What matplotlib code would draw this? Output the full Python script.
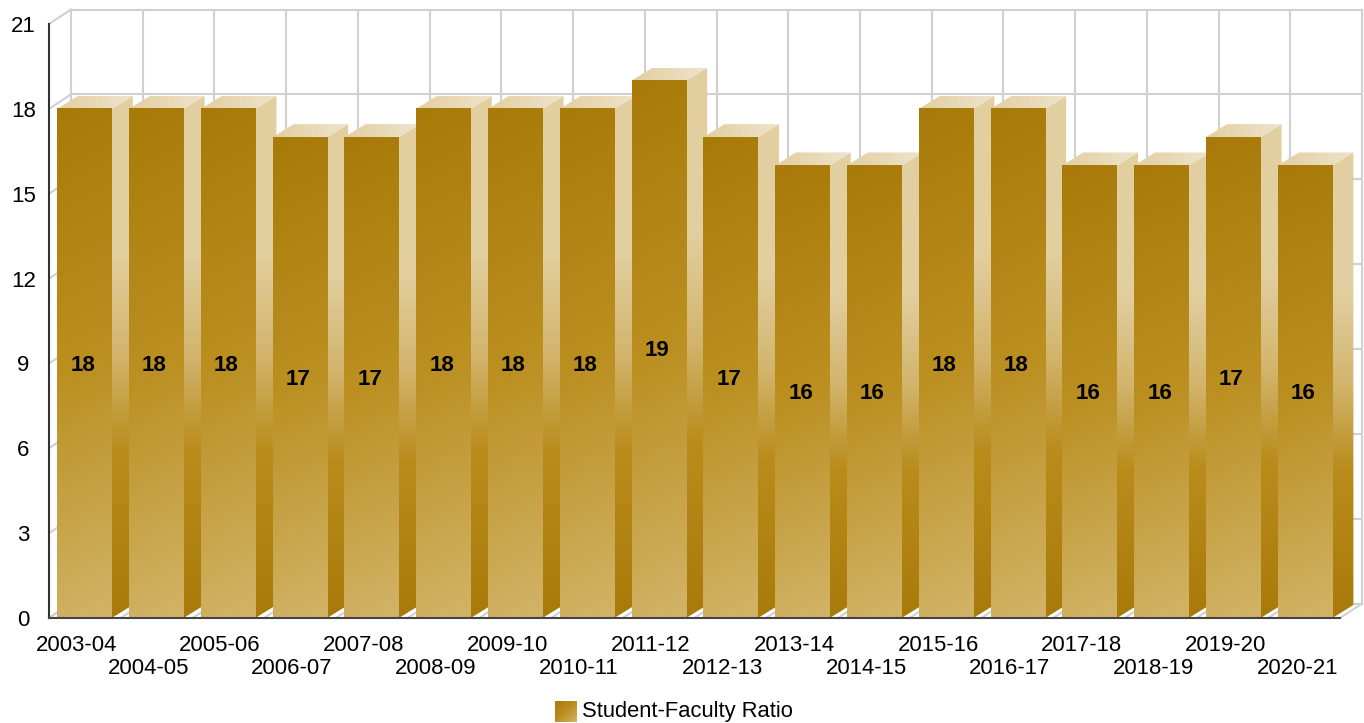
import matplotlib
matplotlib.use('Agg')
import matplotlib.pyplot as plt
import matplotlib.colors as mcolors
from matplotlib.patches import Polygon
import numpy as np

plt.rcParams['font.family'] = ['Liberation Sans', 'DejaVu Sans']

years = ['2003-04', '2004-05', '2005-06', '2006-07', '2007-08', '2008-09',
         '2009-10', '2010-11', '2011-12', '2012-13', '2013-14', '2014-15',
         '2015-16', '2016-17', '2017-18', '2018-19', '2019-20', '2020-21']
ratio = [18, 18, 18, 17, 17, 18, 18, 18, 19, 17, 16, 16, 18, 18, 16, 16, 17, 16]
y_ticks = [0, 3, 6, 9, 12, 15, 18, 21]
legend_label = 'Student-Faculty Ratio'

# 3d look: depth of the bars and of the walls, in data units
bar_w = 0.76
bar_dx = 21 / 71.8
bar_dy = 13 / 28.3
wall_dx = 22 / 71.8
wall_dy = 14.5 / 28.3
grid_col = '#d0d0d0'

front_cmap = mcolors.LinearSegmentedColormap.from_list(
    'front', ['#a87a0a', '#bb8f20', '#d2b468'])
side_cmap = mcolors.LinearSegmentedColormap.from_list(
    'side', [(0, '#e2cfa0'), (0.3, '#e2cfa0'), (0.5, '#d2b46c'),
             (0.68, '#b98c1c'), (1, '#a87a0a')])
top_cmap = mcolors.LinearSegmentedColormap.from_list(
    'top', ['#e2cfa0', '#eee3cc'])

fig = plt.figure(figsize=(13.64, 7.23), dpi=100)
ax = fig.add_axes([49 / 1364, 105 / 723, 1291 / 1364, 594 / 723])
xmin, xmax = -0.494, 17.486
ax.set_xlim(xmin, xmax)
ax.set_ylim(0, 21)
ax.set_autoscale_on(False)

# back wall, left wall and floor
grid_x = np.linspace(xmin, xmax, 19)
for t in y_ticks:
    ax.plot([xmin + wall_dx, xmax + wall_dx], [t + wall_dy, t + wall_dy],
            color=grid_col, lw=1.5, clip_on=False, zorder=1)
    ax.plot([xmin, xmin + wall_dx], [t, t + wall_dy],
            color=grid_col, lw=1.5, clip_on=False, zorder=1)
for gx in grid_x:
    ax.plot([gx + wall_dx, gx + wall_dx], [wall_dy, 21 + wall_dy],
            color=grid_col, lw=1.5, clip_on=False, zorder=1)
    ax.plot([gx, gx + wall_dx], [0, wall_dy],
            color=grid_col, lw=1.5, clip_on=False, zorder=1)

front_grad = np.linspace(0, 0.95, 256)[:, None] + np.linspace(0, 0.05, 32)[None, :]
side_grad = np.linspace(0, 1, 256)[:, None]
top_grad = np.linspace(0, 1, 64)[None, :]

for i, v in enumerate(ratio):
    x0 = i - bar_w / 2
    x1 = i + bar_w / 2
    z = 3 + i * 0.01

    # side face
    side = Polygon([(x1, 0), (x1 + bar_dx, bar_dy), (x1 + bar_dx, v + bar_dy), (x1, v)],
                   transform=ax.transData)
    im = ax.imshow(side_grad, cmap=side_cmap, vmin=0, vmax=1, aspect='auto',
                   extent=(x1, x1 + bar_dx, 0, v + bar_dy), zorder=z)
    im.set_clip_path(side)
    im.set_clip_box(fig.bbox)

    # top face
    top = Polygon([(x0, v), (x1, v), (x1 + bar_dx, v + bar_dy), (x0 + bar_dx, v + bar_dy)],
                  transform=ax.transData)
    im = ax.imshow(top_grad, cmap=top_cmap, vmin=0, vmax=1, aspect='auto',
                   extent=(x0, x1 + bar_dx, v, v + bar_dy), zorder=z)
    im.set_clip_path(top)
    im.set_clip_box(fig.bbox)

    # front face
    ax.imshow(front_grad, cmap=front_cmap, vmin=0, vmax=1, aspect='auto',
              extent=(x0, x1, 0, v), zorder=z + 0.001)

    ax.text(i - 0.025, v / 2 - 0.06, str(v), ha='center', va='center',
            fontsize=16, fontweight='bold', color='black', zorder=10)

ax.set_xlim(xmin, xmax)
ax.set_ylim(0, 21)

for name in ['top', 'right']:
    ax.spines[name].set_visible(False)
ax.spines['left'].set_color('#333333')
ax.spines['left'].set_linewidth(1.5)
ax.spines['bottom'].set_color('#444444')
ax.spines['bottom'].set_linewidth(1.5)
ax.spines['left'].set_zorder(20)
ax.spines['bottom'].set_zorder(20)
ax.patch.set_visible(False)

ax.set_yticks(y_ticks)
ax.set_yticklabels([str(t) for t in y_ticks], fontsize=16, ha='center')
ax.tick_params(axis='y', length=0, pad=18.5)

# the labels sit a little left of the bars and alternate on two rows
ax.set_xticks([i - 0.11 for i in range(len(years))])
ax.set_xticklabels(years, fontsize=15.9)
ax.tick_params(axis='x', length=0)
for i, tick in enumerate(ax.xaxis.get_major_ticks()):
    tick.set_pad(12.5 if i % 2 == 0 else 29)

# legend
swatch = fig.add_axes([555 / 1364, 1 / 723, 22 / 1364, 21 / 723])
swatch.imshow(np.add.outer(np.linspace(0, 0.5, 32), np.linspace(0, 0.5, 32)),
              cmap=front_cmap, vmin=0, vmax=1, aspect='auto')
swatch.axis('off')
fig.text(582 / 1364, 11.5 / 723, legend_label, fontsize=15.8, ha='left', va='center')

fig.savefig('out.png', dpi=100)
